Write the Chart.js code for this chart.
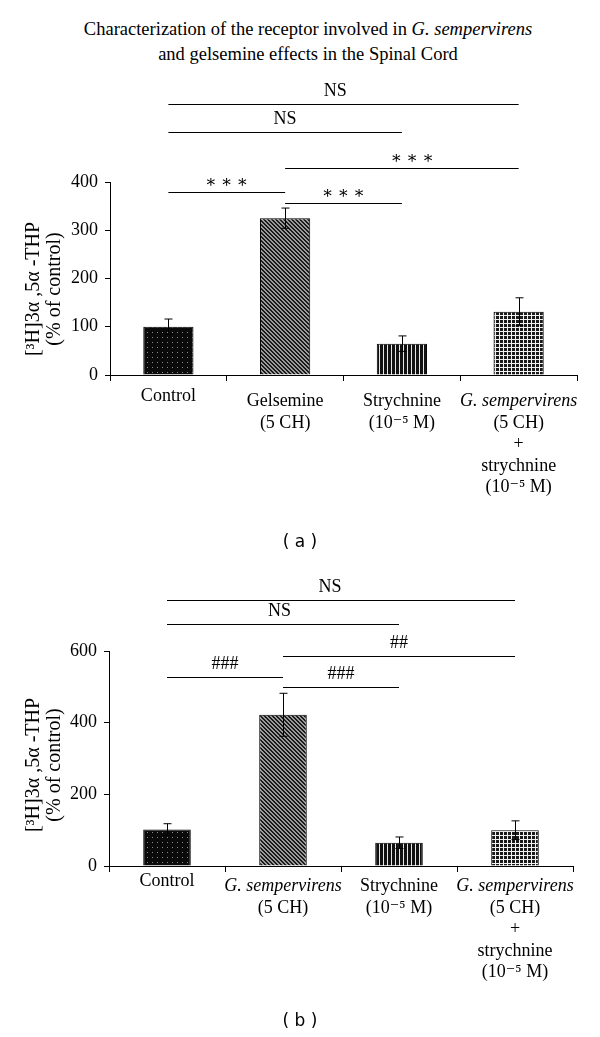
<!DOCTYPE html>
<html>
<head>
<meta charset="utf-8">
<script src="https://cdn.jsdelivr.net/npm/chart.js@4.4.1/dist/chart.umd.min.js"></script>
<style>
  body { margin: 0; background: #fff; }
  #page { position: relative; width: 600px; height: 1037px; overflow: hidden; background: #fff; font-family: "Liberation Serif", serif; color: #000; }
  .title { position: absolute; left: 8px; width: 600px; top: 17px; text-align: center; font-size: 18.5px; line-height: 25px; }
  .cap { position: absolute; left: 0; width: 600px; text-align: center; font-family: "DejaVu Sans", sans-serif; font-size: 17px; line-height: 20px; }
  canvas { position: absolute; left: 0; }
</style>
</head>
<body>
<div id="page">
  <div class="title">Characterization of the receptor involved in <i>G. sempervirens</i><br>and gelsemine effects in the Spinal Cord</div>
  <canvas id="chartA" width="600" height="560" style="top:0"></canvas>
  <div class="cap" style="top:531px">( a )</div>
  <canvas id="chartB" width="600" height="477" style="top:560px"></canvas>
  <div class="cap" style="top:1010px">( b )</div>
</div>
<script>
'use strict';

// ── DATA ────────────────────────────────────────────────────────────────────
const CATS_A   = ['Control', 'Gelsemine (5 CH)', 'Strychnine (10⁻⁵ M)', 'G. sempervirens (5 CH) + strychnine (10⁻⁵ M)'];
const LABELS_A = [['Control'], ['Gelsemine', '(5 CH)'], ['Strychnine', '(10⁻⁵ M)'],
                  ['G. sempervirens', '(5 CH)', '+', 'strychnine', '(10⁻⁵ M)']];
const VALUES_A = [100, 325, 65, 131];
const ERRORS_A = [16, 21, 16, 29];
const TICKS_A  = [0, 100, 200, 300, 400];
// significance bars: categories joined, height in data units, text, text anchor (category units)
const SIG_A = [
  { from: 0, to: 3, level: 562, text: 'NS', at: 1.43 },
  { from: 0, to: 2, level: 503, text: 'NS' },
  { from: 1, to: 3, level: 430, text: '∗ ∗ ∗', at: 2.09 },
  { from: 0, to: 1, level: 380, text: '∗ ∗ ∗' },
  { from: 1, to: 2, level: 356, text: '∗ ∗ ∗' }
];

const CATS_B   = ['Control', 'G. sempervirens (5 CH)', 'Strychnine (10⁻⁵ M)', 'G. sempervirens (5 CH) + strychnine (10⁻⁵ M)'];
const LABELS_B = [['Control'], ['G. sempervirens', '(5 CH)'], ['Strychnine', '(10⁻⁵ M)'],
                  ['G. sempervirens', '(5 CH)', '+', 'strychnine', '(10⁻⁵ M)']];
const VALUES_B = [102, 422, 65, 100];
const ERRORS_B = [16, 60, 16, 26];
const TICKS_B  = [0, 200, 400, 600];
const SIG_B = [
  { from: 0, to: 3, level: 742, text: 'NS', at: 1.405 },
  { from: 0, to: 2, level: 675, text: 'NS', at: 0.97 },
  { from: 1, to: 3, level: 586, text: '##' },
  { from: 0, to: 1, level: 528, text: '###' },
  { from: 1, to: 2, level: 500, text: '###' }
];

const Y_TITLE = ['[³H]3α ,5α -THP', '(% of control)'];
const SERIF = '"Liberation Serif", "DejaVu Serif", serif';

// ── FILL PATTERNS ───────────────────────────────────────────────────────────
function makePattern(w, h, paint) {
  const c = document.createElement('canvas');
  c.width = w; c.height = h;
  const g = c.getContext('2d');
  for (let y = 0; y < h; y++) {
    for (let x = 0; x < w; x++) {
      g.fillStyle = paint(x, y);
      g.fillRect(x, y, 1, 1);
    }
  }
  return c.getContext('2d').createPattern(c, 'repeat');
}

function barPatterns() {
  return [
    makePattern(5, 5, (x, y) => (x === 2 && y === 2) ? '#8a8a8a' : '#0a0a0a'),        // dots
    makePattern(4, 4, (x, y) => (((x - y) % 4 + 4) % 4 < 2) ? '#1a1a1a' : '#9a9a9a'),  // diagonal
    makePattern(4, 1, x => x === 3 ? '#e6e6e6' : '#111'),                            // vertical
    makePattern(4, 4, (x, y) => (x === 3 || y === 3) ? '#f2f2f2' : '#1a1a1a')        // grid
  ];
}

// ── ANNOTATION PLUGIN ───────────────────────────────────────────────────────
const PANELS = {
  chartA: { labels: LABELS_A, errors: ERRORS_A, sig: SIG_A, titleY: 289, single: 21.7, first: 26.5, gap: 21.5 },
  chartB: { labels: LABELS_B, errors: ERRORS_B, sig: SIG_B, titleY: 205, single: 15.3, first: 20.3, gap: 21.5 }
};

const annotate = {
  id: 'annotate',
  afterDraw(chart) {
    const p = PANELS[chart.canvas.id];
    const { ctx, chartArea } = chart;
    const xs = chart.scales.x, ys = chart.scales.y;
    const cx = v => {
      const i = Math.floor(v), f = v - i;
      const a = xs.getPixelForValue(i);
      return f ? a + (xs.getPixelForValue(i + 1) - a) * f : a;
    };
    const vals = chart.data.datasets[0].data;

    ctx.save();
    ctx.strokeStyle = '#000';
    ctx.fillStyle = '#000';
    ctx.lineWidth = 1;

    // error bars
    vals.forEach((v, i) => {
      const x = Math.round(cx(i)) + 0.5;
      const t = ys.getPixelForValue(v + p.errors[i]);
      const b = ys.getPixelForValue(v - p.errors[i]);
      ctx.beginPath();
      ctx.moveTo(x, t); ctx.lineTo(x, b);
      ctx.moveTo(x - 4, t); ctx.lineTo(x + 4, t);
      ctx.moveTo(x - 4, b); ctx.lineTo(x + 4, b);
      ctx.stroke();
    });

    // significance bars
    ctx.textAlign = 'center';
    ctx.textBaseline = 'middle';
    p.sig.forEach(s => {
      const y = Math.round(ys.getPixelForValue(s.level)) + 0.5;
      ctx.beginPath();
      ctx.moveTo(cx(s.from), y); ctx.lineTo(cx(s.to), y);
      ctx.stroke();
      const star = s.text.includes('∗');
      ctx.font = (star ? '17px ' : '18px ') + SERIF;
      const at = s.at !== undefined ? s.at : (s.from + s.to) / 2;
      ctx.fillText(s.text, cx(at), y - (star ? 10 : 13));
    });

    // category labels
    p.labels.forEach((lines, i) => {
      const top = chartArea.bottom + (lines.length === 1 ? p.single : p.first);
      lines.forEach((ln, k) => {
        ctx.font = (ln.startsWith('G.') ? 'italic ' : '') + '18px ' + SERIF;
        ctx.fillText(ln, cx(i), top + k * p.gap);
      });
    });

    // y-axis title
    ctx.translate(0, p.titleY);
    ctx.rotate(-Math.PI / 2);
    ctx.font = '20px ' + SERIF;
    ctx.fillText(Y_TITLE[0], 0, 34);
    ctx.fillText(Y_TITLE[1], 0, 55);
    ctx.restore();
  }
};

// ── CHARTS ──────────────────────────────────────────────────────────────────
function buildChart(id, cats, values, ticks, opt) {
  return new Chart(document.getElementById(id), {
    type: 'bar',
    data: {
      labels: cats,
      datasets: [{
        data: values,
        backgroundColor: barPatterns(),
        borderColor: '#000',
        borderWidth: 1,
        barPercentage: opt.barPct,
        categoryPercentage: 1
      }]
    },
    options: {
      responsive: false,
      animation: false,
      devicePixelRatio: 1,
      layout: { padding: opt.padding },
      plugins: { legend: { display: false }, tooltip: { enabled: false } },
      scales: {
        x: {
          grid: { offset: true, drawOnChartArea: false, color: '#000', tickLength: 6 },
          border: { color: '#000' },
          ticks: { callback: () => '' },
          afterFit: s => { s.height = 130; }
        },
        y: {
          min: 0,
          max: ticks[ticks.length - 1],
          grid: { drawOnChartArea: false, color: '#000', tickLength: 5 },
          border: { color: '#000' },
          ticks: { color: '#000', padding: 7, font: { family: SERIF, size: 18 } },
          afterBuildTicks: s => { s.ticks = ticks.map(v => ({ value: v })); },
          afterFit: s => { s.width = opt.yWidth; }
        }
      }
    },
    plugins: [annotate]
  });
}

buildChart('chartA', CATS_A, VALUES_A, TICKS_A, { barPct: 0.43, yWidth: 110, padding: { left: 0, top: 182, right: 23, bottom: 55 } });
buildChart('chartB', CATS_B, VALUES_B, TICKS_B, { barPct: 0.41, yWidth: 109, padding: { left: 0, top: 91, right: 27, bottom: 41 } });
</script>
</body>
</html>
